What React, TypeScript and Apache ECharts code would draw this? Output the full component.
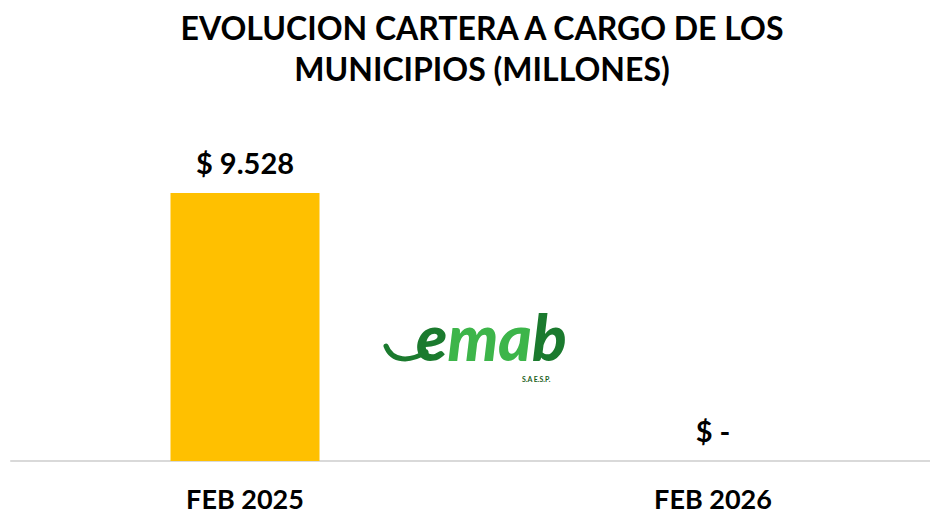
import React, { useEffect, useRef } from "react";
import * as echarts from "echarts";

const titleText = "EVOLUCION CARTERA A CARGO DE LOS\nMUNICIPIOS (MILLONES)";
const categories = ["FEB 2025", "FEB 2026"];
const values = [9528, 0];
const valueLabels = ["$ 9.528", "$ -"];

export default function App() {
  const ref = useRef<HTMLDivElement>(null);
  useEffect(() => {
    if (!ref.current) return;
    const chart = echarts.init(ref.current, null, { renderer: "svg" });
    const font = "Lato, 'Open Sans', sans-serif";
    chart.setOption({
      animation: false,
      backgroundColor: "#ffffff",
      title: {
        text: titleText,
        left: 477,
        textAlign: "center",
        top: 2,
        textStyle: {
          fontFamily: font,
          fontSize: 32,
          fontWeight: "bold",
          color: "#000000",
          lineHeight: 41,
        },
      },
      grid: { left: 11, right: 0, top: 193, bottom: 53, containLabel: false },
      xAxis: {
        type: "category",
        data: categories,
        axisLine: { show: true, lineStyle: { color: "#D9D9D9", width: 2 } },
        axisTick: { show: false },
        axisLabel: {
          margin: 24,
          fontFamily: font,
          fontSize: 27,
          lineHeight: 27,
          fontWeight: "bold",
          color: "#000000",
        },
      },
      yAxis: {
        type: "value",
        min: 0,
        max: 9528,
        show: false,
        splitLine: { show: false },
      },
      series: [
        {
          type: "bar",
          data: values,
          barWidth: 149,
          itemStyle: { color: "#FFC000" },
          label: {
            show: true,
            position: "top",
            distance: 16,
            fontFamily: font,
            fontSize: 29,
            fontWeight: "bold",
            color: "#000000",
            formatter: (p: any) => valueLabels[p.dataIndex],
          },
        },
      ],
      graphic: [
        {
          type: "bezierCurve",
          shape: { x1: 386, y1: 346, cpx1: 392, cpy1: 362, cpx2: 410, cpy2: 362, x2: 426, y2: 352 },
          style: { stroke: "#1B7A2E", lineWidth: 5, fill: null, lineCap: "round" },
        },
        {
          type: "text",
          x: 416,
          y: 336,
          style: {
            text: "{d|e}{l|ma}{d|b}",
            verticalAlign: "middle",
            rich: {
              d: { fontFamily: font, fontSize: 64, lineHeight: 44, fontStyle: "italic", fontWeight: 900, fill: "#1B7A2E" },
              l: { fontFamily: font, fontSize: 64, lineHeight: 44, fontStyle: "italic", fontWeight: 900, fill: "#3DB54A" },
            },
          },
        },
        {
          type: "text",
          x: 522,
          y: 379,
          style: {
            text: "S.A E.S.P.",
            fontFamily: font,
            fontSize: 7,
            fontWeight: "bold",
            fill: "#1B5E20",
            verticalAlign: "middle",
          },
        },
      ],
    });
    return () => chart.dispose();
  }, []);
  return (
    <div style={{ position: "fixed", left: 0, top: 0, width: 930, height: 514, overflow: "hidden" }}>
      <div ref={ref} style={{ width: 947, height: 514 }} />
    </div>
  );
}
